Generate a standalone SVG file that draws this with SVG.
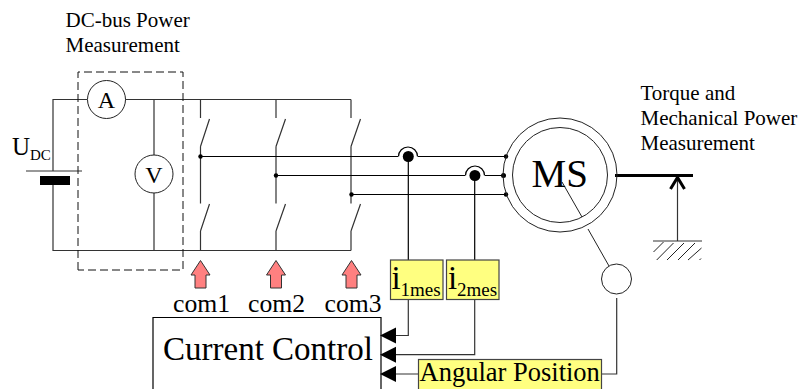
<svg xmlns="http://www.w3.org/2000/svg" width="801" height="389" viewBox="0 0 801 389">
<style>
text{font-family:"Liberation Serif","Times New Roman",serif;fill:#000}
.w{fill:none;stroke:#333;stroke-width:1.2}
.k{fill:none;stroke:#000;stroke-width:1.2}
.t{fill:none;stroke:#222;stroke-width:1}
.y{fill:#ffff80;stroke:#444;stroke-width:1.2}
.c{fill:#fff;stroke:#222;stroke-width:1}
.d{fill:#000}
.p{fill:#ff8080;stroke:#333;stroke-width:1}
.l{font-size:21px}
.tip{fill:#000;stroke:none}
</style>
<g id="connectors">
<path class="w" d="M87 99.500H53V171M53 185V250.500H351M125 99.500H351M154 99.500V155M154 193V250.500"/>
<path class="w" d="M26 171H82"/>
<path class="w" d="M200.500 99.500V118M200.500 146.500L209.500 119M200.500 146.500V203.500M200.500 231L209.500 204M200.500 231V250.500"/>
<path class="w" d="M276 99.500V118M276 146.500L285.500 119M276 146.500V203.500M276 231L285.500 204M276 231V250.500"/>
<path class="w" d="M351 99.500V118M351 146.500L360.500 119M351 146.500V203.500M351 231L360.500 204M351 231V250.500"/>
<path class="k" d="M200.500 156.500H398M418 156.500H506"/>
<path class="k" d="M276 175.500H465M485 175.500H503.500"/>
<path class="k" d="M351 194.500H506"/>
<path class="k" d="M398.500 156.500A9.500 9.500 0 0 1 417.500 156.500M465.500 175.500A9.500 9.500 0 0 1 484.500 175.500"/>
<path class="k" d="M408.300 156.500V260M474.700 175.500V260"/>
<path class="w" d="M408.300 299.500V335.500H395M474.700 299.500V354.700H395M418 374H395M602 374H616.700V298"/>
<path class="t" d="M562 182L582 217M588 229L609 266"/>
<path fill="none" stroke="#000" stroke-width="3" d="M615 175.500H693"/>
<path class="w" d="M677.500 241V180"/>
<path fill="none" stroke="#000" stroke-width="3" d="M670.500 189L677.500 177.500L684.500 189"/>
<path class="w" d="M653 241H702"/>
<path class="t" d="M653.500 252L663.500 242M656.700 260L673.500 243M667 260L684 243M678 260L695 243M688 260L701.500 248M699.500 260L701 258.500"/>
<path fill="none" stroke="#111" stroke-dasharray="8 4" stroke-width="1" d="M78 270V72H183V270H78"/>
<path class="tip" d="M380 335.500L396 327.500V343.500ZM380 354.700L396 346.700V362.700ZM380 374L396 366V382Z"/>
</g>
<g id="dots">
<circle class="d" cx="200.500" cy="156.500" r="2.200"/><circle class="d" cx="276" cy="175.500" r="2.200"/><circle class="d" cx="351.500" cy="194.500" r="2.200"/>
<circle class="d" cx="506" cy="156.500" r="2.200"/><circle class="d" cx="503.500" cy="175.500" r="2.500"/><circle class="d" cx="506" cy="194.500" r="2.200"/>
<circle class="d" cx="408.300" cy="156.500" r="5.500"/><circle class="d" cx="474.900" cy="175.500" r="5.500"/>
</g>
<g id="battery"><rect class="d" x="40" y="176" width="30" height="9"/>
<text x="12" y="155" font-size="25">U</text><text x="30" y="160" font-size="15">DC</text></g>
<g id="ammeter"><circle class="c" cx="106.500" cy="99.500" r="19"/><text x="106.500" y="107.700" font-size="24" text-anchor="middle">A</text></g>
<g id="voltmeter"><circle class="c" cx="154" cy="174" r="19"/><text x="154" y="183" font-size="24" text-anchor="middle">V</text></g>
<g id="dc-label"><text class="l" x="65.500" y="27">DC-bus Power</text><text class="l" x="65.500" y="52">Measurement</text></g>
<g id="torque-label"><text class="l" x="640.500" y="100">Torque and</text><text class="l" x="640.500" y="125">Mechanical Power</text><text class="l" x="640.500" y="150">Measurement</text></g>
<g id="motor"><circle class="t" cx="560" cy="175" r="57"/><circle class="t" cx="560" cy="175" r="47.500"/><text x="531.500" y="187" font-size="39">MS</text></g>
<g id="encoder"><circle class="c" cx="616.500" cy="279" r="15"/></g>
<g id="com1"><path class="p" d="M200.500 260.500L210 275H206V288H195V275H191Z"/><text x="173" y="311.500" font-size="25.700">com1</text></g>
<g id="com2"><path class="p" d="M276 260.500L285.500 275H281.500V288H270.500V275H266.500Z"/><text x="248" y="311.500" font-size="25.700">com2</text></g>
<g id="com3"><path class="p" d="M351.500 260.500L361 275H357V288H346V275H342Z"/><text x="324.500" y="311.500" font-size="25.700">com3</text></g>
<g id="current-control"><path class="k" d="M153 389V317.500H381V389"/><text x="163" y="360" font-size="33">Current Control</text></g>
<g id="i1mes"><rect class="y" x="390.500" y="260" width="52.500" height="39.500"/><text x="391.500" y="289" font-size="33">i</text><text x="400.500" y="296" font-size="19">1mes</text></g>
<g id="i2mes"><rect class="y" x="446.500" y="260" width="52.500" height="39.500"/><text x="448" y="289" font-size="33">i</text><text x="457" y="296" font-size="19">2mes</text></g>
<g id="angular-position"><rect class="y" x="418.500" y="359.500" width="183" height="35"/><text x="419.500" y="381" font-size="26.500">Angular Position</text></g>
</svg>
